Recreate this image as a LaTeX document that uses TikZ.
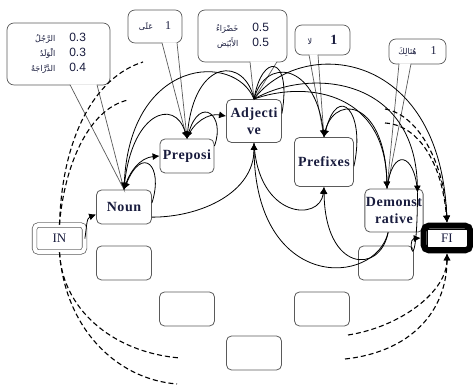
\documentclass[tikz,border=0pt]{standalone}
\usepackage{fontspec}
\setmainfont{Liberation Serif}
\newfontfamily\etiqueta{Liberation Serif}[LetterSpace=4]
\newfontfamily\arabe[Script=Arabic]{DejaVu Sans}
\newfontfamily\cifra{Liberation Sans}
\usetikzlibrary{arrows.meta,calc,fit}
\TeXXeTstate=1
\definecolor{tinta}{RGB}{25,28,62}
\definecolor{borde}{RGB}{90,90,90}
\newcommand{\palabra}[1]{{\arabe\fontsize{8}{10}\selectfont\beginR #1\endR}}

\begin{document}
\begin{tikzpicture}[
    x=1pt, y=1pt,
    estado/.style={draw=borde, line width=0.8pt, rounded corners=5pt, fill=white, align=center, inner sep=1pt, minimum width=55pt, minimum height=34pt, text=tinta, font=\etiqueta\bfseries\fontsize{14}{17}\selectfont},
    vacio/.style={draw=borde, line width=0.8pt, rounded corners=5pt, minimum width=55pt, minimum height=34pt},
    entrada/.style={draw=borde, double, double distance=4pt, line width=0.7pt, rounded corners=4pt, minimum width=50pt, minimum height=27pt, text=tinta, font=\fontsize{13}{15}\selectfont},
    globo/.style={draw=borde, line width=0.7pt, rounded corners=7pt, fill=white, inner sep=2pt, text=tinta, font=\fontsize{12}{15}\selectfont},
    flujo/.style={-{Latex[length=7pt,width=7pt]}, line width=0.8pt},
    linea/.style={line width=0.8pt},
    salto/.style={flujo, dashed, dash pattern=on 5pt off 3pt, line width=1.1pt},
    rayado/.style={dashed, dash pattern=on 5pt off 3pt, line width=1.1pt},
]
    \useasboundingbox (0,0) rectangle (473,387);

    % estados
    \node[entrada] (ini) at (59.5,148.5) {IN};
    \node[estado] (noun) at (124,180) {Noun};
    \node[estado, minimum width=54pt] (prep) at (187,231) {Preposi};
    \node[estado, minimum height=43pt] (adj) at (254,266) {Adjecti\\ve};
    \node[estado, minimum width=59pt, minimum height=49pt] (pref) at (324,225) {Prefixes};
    \node[estado, minimum width=58pt, minimum height=43pt] (dem) at (394,176.5) {Demonst\\rative};
    \node[draw, line width=0.6pt, minimum width=40pt, minimum height=18pt, inner sep=1pt, text=tinta, font=\fontsize{13}{15}\selectfont] (fi) at (447,149) {FI};
    \node[fit=(fi), inner sep=3pt, draw=black, line width=6pt, rounded corners=5pt] (fibox) {};
    \foreach \n/\x/\y in {v1/124/124, v2/187/78, v3/254/34, v4/322/78, v5/386/124}
        \node[vacio] (\n) at (\x,\y) {};

    % globos
    \node[globo, minimum width=103pt, minimum height=62pt] (gnoun) at (58.5,333) {\begin{tabular}{@{}r@{\hspace{14pt}}l@{}}
        \palabra{الرَّجُلُ} & \cifra 0.3\\
        \palabra{الْوَلَدُ} & \cifra 0.3\\
        \palabra{الدَّرَّاجَةُ} & \cifra 0.4
    \end{tabular}};
    \node[globo, minimum width=54pt, minimum height=33pt] (gprep) at (155,360.5) {\palabra{عَلَى}\hspace{12pt}1};
    \node[globo, minimum width=89pt, minimum height=52pt] (gadj) at (242.5,351) {\begin{tabular}{@{}r@{\hspace{14pt}}l@{}}
        \palabra{خَضْرَاءُ} & \cifra 0.5\\
        \palabra{الأَبْيَض} & \cifra 0.5
    \end{tabular}};
    \node[globo, minimum width=55pt, minimum height=30pt] (gpref) at (322.5,347) {\palabra{لا}\hspace{18pt}{\bfseries\fontsize{14}{15}\selectfont 1}};
    \node[globo, minimum width=57pt, minimum height=25pt] (gdem) at (417.5,335.5) {\palabra{هُنَالِكَ}\hspace{14pt}1};

    \coordinate (dtip) at ($(dem.north)+(-7,0)$);
    \coordinate (dder) at ($(dem.north east)+(-6,-4)$);
    \foreach \g/\n/\a/\b in {gnoun/noun.north/11.5/38.5, gprep/prep.north/7/22, gadj/adj.north/7.5/34.5, gpref/pref.north/-13.5/-4.5, gdem/dtip/-18.5/-6.5} {
        \fill[white] ($(\g.south)+(\a,1)$) -- (\n) -- ($(\g.south)+(\b,1)$) -- cycle;
        \draw[borde, line width=0.7pt] ($(\g.south)+(\a,0.6)$) -- (\n) -- ($(\g.south)+(\b,0.6)$);
    }

    % arcos
    \draw[flujo] (ini.east) to[out=80,in=200] (noun.195);
    \draw[flujo] (noun.8) .. controls (164,222) and (142,242) .. (noun.north);
    \draw[flujo] (noun.north) to[out=75,in=185] (prep.west);
    \draw[flujo] (noun.-20) to[out=0,in=-90] (adj.south);
    \draw[flujo] (noun.north) .. controls (130,275) and (175,290) .. (prep.north);
    \draw[flujo] (adj.north) .. controls (235,335) and (130,330) .. (noun.north);
    \draw[flujo] (adj.north) .. controls (245,330) and (195,330) .. (prep.north);
    \draw[flujo] (prep.20) .. controls (226,272) and (200,292) .. (prep.north);
    \draw[flujo] (prep.north) to[out=70,in=170] (adj.170);
    \draw[linea] (adj.15) .. controls (292,332) and (262,335) .. (adj.north);
    \draw[flujo] (adj.north) .. controls (265,330) and (315,325) .. (pref.north);
    \draw[flujo] (pref.-8) .. controls (366,275) and (338,305) .. (pref.north);
    \draw[flujo] (pref.north) .. controls (330,295) and (385,290) .. (dtip);
    \draw[flujo] (adj.north) .. controls (300,305) and (385,300) .. (dtip);
    \draw[flujo] (adj.north) .. controls (310,320) and (415,310) .. (dder);
    \draw[linea] (dtip) .. controls (392,240) and (415,235) .. (dder);
    \draw[flujo] (adj.north) .. controls (300,350) and (440,340) .. (fibox.north);
    \draw[flujo] (dder) .. controls (417,100) and (406,148) .. (fibox.west);
    \draw[flujo] (dem.-105) .. controls (375,100) and (255,95) .. (adj.south);
    \draw[flujo] (dem.-105) .. controls (380,112) and (325,115) .. (pref.south);
    \draw[flujo] (adj.south) .. controls (258,168) and (320,165) .. (pref.south);

    % saltos
    \coordinate (d1) at (143,325);
    \coordinate (d2) at (128,287);
    \coordinate (d3) at (180,29);
    \coordinate (d4) at (177,3);
    \coordinate (d5) at (348,52);
    \coordinate (d6) at (345,28);
    \coordinate (d7) at (385,278);
    \coordinate (d8) at (385,264);
    \draw[rayado] (ini.north) .. controls (62,250) and (95,310) .. (d1);
    \draw[rayado] (ini.north) .. controls (64,220) and (88,278) .. (d2);
    \draw[rayado] (ini.south) .. controls (62,80) and (110,35) .. (d3);
    \draw[rayado] (ini.south) .. controls (65,60) and (115,8) .. (d4);
    \draw[salto] (d5) .. controls (400,60) and (447,95) .. (fibox.south);
    \draw[salto] (d6) .. controls (410,35) and (447,75) .. (fibox.south);
    \draw[salto] (d7) .. controls (420,272) and (445,220) .. (fibox.north);
    \draw[salto] (d8) .. controls (418,262) and (442,225) .. (fibox.north);
\end{tikzpicture}
\end{document}
